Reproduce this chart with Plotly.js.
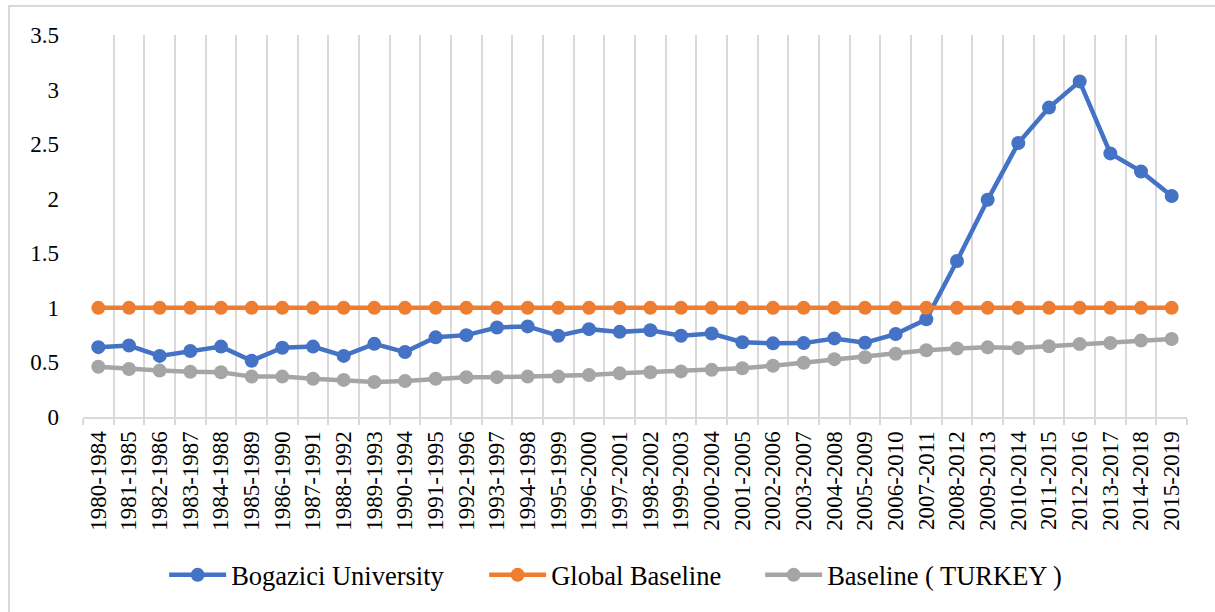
<!DOCTYPE html>
<html>
<head>
<meta charset="utf-8">
<script src="https://cdn.plot.ly/plotly-3.0.1.min.js"></script>
<style>
  html, body { margin: 0; padding: 0; background: #fff; overflow: hidden; }
  #wrap { position: relative; width: 1215px; height: 612px; }
  #chart { position: absolute; left: 0; top: 0; width: 1215px; height: 612px; }
  #frame { position: absolute; left: 8px; top: 5px; width: 1300px; height: 700px;
           border: 2px solid #d9d9d9; box-sizing: border-box; pointer-events: none; }
</style>
</head>
<body>
<div id="wrap">
  <div id="chart"></div>
  <div id="frame"></div>
</div>
<script>
const periods = [
  "1980-1984","1981-1985","1982-1986","1983-1987","1984-1988","1985-1989",
  "1986-1990","1987-1991","1988-1992","1989-1993","1990-1994","1991-1995",
  "1992-1996","1993-1997","1994-1998","1995-1999","1996-2000","1997-2001",
  "1998-2002","1999-2003","2000-2004","2001-2005","2002-2006","2003-2007",
  "2004-2008","2005-2009","2006-2010","2007-2011","2008-2012","2009-2013",
  "2010-2014","2011-2015","2012-2016","2013-2017","2014-2018","2015-2019"
];
const bogazici = [
  0.64, 0.655, 0.56, 0.605, 0.645, 0.515, 0.635, 0.645, 0.56, 0.67, 0.595, 0.73,
  0.75, 0.82, 0.83, 0.745, 0.805, 0.78, 0.795, 0.745, 0.765, 0.685, 0.675, 0.677,
  0.72, 0.68, 0.76, 0.895, 1.43, 1.99, 2.51, 2.835, 3.075, 2.415, 2.25, 2.025
];
const globalBaseline = [
  1, 1, 1, 1, 1, 1, 1, 1, 1, 1, 1, 1,
  1, 1, 1, 1, 1, 1, 1, 1, 1, 1, 1, 1,
  1, 1, 1, 1, 1, 1, 1, 1, 1, 1, 1, 1
];
const turkeyBaseline = [
  0.46, 0.44, 0.425, 0.415, 0.41, 0.37, 0.37, 0.35, 0.34, 0.32, 0.33, 0.35,
  0.365, 0.365, 0.37, 0.37, 0.385, 0.4, 0.41, 0.418, 0.432, 0.447, 0.47, 0.497,
  0.53, 0.548, 0.58, 0.612, 0.628, 0.638, 0.632, 0.648, 0.668, 0.678, 0.7, 0.714
];
const seriesNames = ["Bogazici University", "Global Baseline", "Baseline ( TURKEY )"];
const seriesColors = ["#4472C4", "#ED7D31", "#A5A5A5"];
const yTicks = [0, 0.5, 1, 1.5, 2, 2.5, 3, 3.5];

const FONT = "Liberation Serif";
const legendWidths = [248, 204, 245];
const allSeries = [bogazici, globalBaseline, turkeyBaseline];
const traces = allSeries.map((vals, i) => ({
  type: "scatter",
  mode: "lines+markers",
  x: periods,
  y: vals,
  name: seriesNames[i],
  legendwidth: legendWidths[i],
  line: { color: seriesColors[i], width: 4.5 },
  marker: { color: seriesColors[i], size: 14 },
  cliponaxis: false
}));

const layout = {
  width: 1215,
  height: 612,
  margin: { l: 83, r: 28, t: 35, b: 195 },
  paper_bgcolor: "rgba(0,0,0,0)",
  plot_bgcolor: "rgba(0,0,0,0)",
  font: { family: FONT, color: "#000" },
  showlegend: true,
  legend: {
    orientation: "h",
    x: 0.487,
    xanchor: "center",
    y: -0.414,
    yanchor: "middle",
    itemwidth: 57,
    font: { family: FONT, size: 26.5, color: "#000" },
    bgcolor: "rgba(0,0,0,0)"
  },
  xaxis: {
    type: "category",
    categoryorder: "array",
    categoryarray: periods,
    range: [-0.5, periods.length - 0.5],
    autorange: false,
    tickangle: -90,
    tickson: "boundaries",
    ticks: "outside",
    ticklen: 6,
    tickwidth: 2,
    tickcolor: "#d9d9d9",
    showgrid: true,
    gridcolor: "#d9d9d9",
    gridwidth: 2,
    showline: true,
    linecolor: "#d9d9d9",
    linewidth: 2,
    automargin: false,
    ticklabelstandoff: 3,
    tickfont: { family: FONT, size: 23, color: "#000" }
  },
  yaxis: {
    range: [0, 3.5],
    autorange: false,
    tickvals: yTicks,
    ticktext: yTicks.map(v => String(v)),
    showgrid: false,
    zeroline: false,
    showline: false,
    ticks: "",
    ticklabelstandoff: 23,
    automargin: false,
    tickfont: { family: FONT, size: 23, color: "#000" }
  }
};

Plotly.newPlot("chart", traces, layout, { staticPlot: true, displayModeBar: false });
</script>
</body>
</html>
